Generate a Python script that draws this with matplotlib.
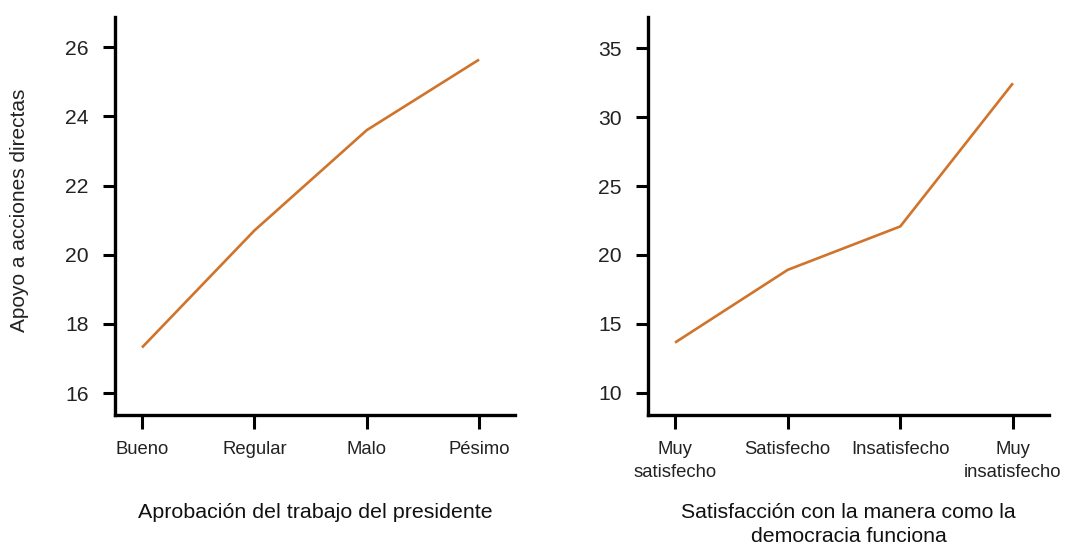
import matplotlib
matplotlib.use('Agg')
import matplotlib.pyplot as plt

plt.rcParams['font.family'] = ['Liberation Sans', 'DejaVu Sans']

# Left panel data
aprob_cats = ['Bueno', 'Regular', 'Malo', 'Pésimo']
aprob_vals = [17.32, 20.7, 23.6, 25.64]
aprob_ticks = [16, 18, 20, 22, 24, 26]

# Right panel data
satis_cats = ['Muy\nsatisfecho', 'Satisfecho', 'Insatisfecho', 'Muy\ninsatisfecho']
satis_vals = [13.65, 18.92, 22.07, 32.45]
satis_ticks = [10, 15, 20, 25, 30, 35]

line_color = '#D0742C'

fig = plt.figure(figsize=(10.67, 5.47), dpi=100)
ax1 = fig.add_axes([0.1078, 0.2413, 0.3749, 0.7276])
ax2 = fig.add_axes([0.6073, 0.2413, 0.3758, 0.7276])

def style(ax, cats, vals, ticks, ylim):
    x = list(range(len(cats)))
    ax.plot(x, vals, color=line_color, lw=1.9, solid_capstyle='butt')
    ax.set_xlim(-0.24, 3.32)
    ax.set_ylim(*ylim)
    ax.set_xticks(x)
    ax.set_xticklabels(cats, fontsize=13.3, color='#222222', linespacing=1.45)
    ax.set_yticks(ticks)
    ax.tick_params(axis='y', labelsize=15.2, length=9, width=2.2, pad=10, colors='black', labelcolor='#222222')
    ax.tick_params(axis='x', length=10, width=2.2, pad=9)
    for s in ['top', 'right']:
        ax.spines[s].set_visible(False)
    for s in ['left', 'bottom']:
        ax.spines[s].set_linewidth(2.4)

style(ax1, aprob_cats, aprob_vals, aprob_ticks, (15.37, 26.87))
style(ax2, satis_cats, satis_vals, satis_ticks, (8.4, 37.25))

ax1.set_ylabel('Apoyo a acciones directas', fontsize=15, color='#222222')
ax1.yaxis.set_label_coords(-0.215, 0.515)

ax1.set_xlabel('Aprobación del trabajo del presidente', fontsize=15.4, color='#111111', va='top')
ax1.xaxis.set_label_coords(0.5, -0.222)
ax2.set_xlabel('Satisfacción con la manera como la\ndemocracia funciona', fontsize=15.3,
               color='#111111', va='top', linespacing=1.3)
ax2.xaxis.set_label_coords(0.5, -0.222)

fig.savefig('out.png', dpi=100)
